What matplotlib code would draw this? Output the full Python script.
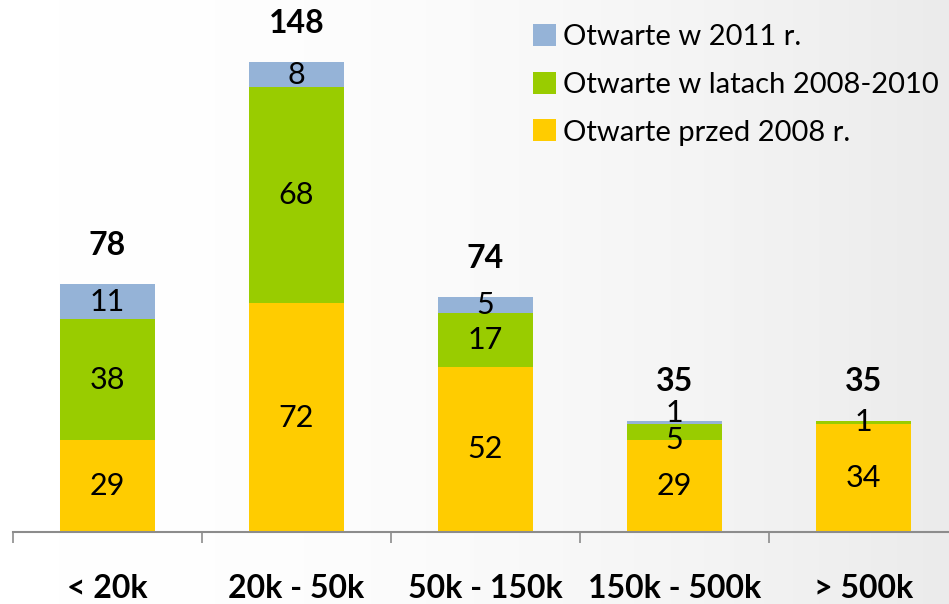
import numpy as np
import matplotlib.pyplot as plt
from matplotlib.colors import LinearSegmentedColormap

plt.rcParams['font.family'] = ['Lato', 'DejaVu Sans']

# data
categories = ["< 20k", "20k - 50k", "50k - 150k", "150k - 500k", "> 500k"]
before_2008 = [29, 72, 52, 29, 34]
years_2008_2010 = [38, 68, 17, 5, 1]
year_2011 = [11, 8, 5, 1, 0]
series_names = ["Otwarte przed 2008 r.", "Otwarte w latach 2008-2010", "Otwarte w 2011 r."]
colors = ["#ffcc00", "#99cc00", "#95b3d7"]

fig = plt.figure(figsize=(9.49, 6.04), dpi=100)

# soft grey gradient in the background
bg = fig.add_axes([0, 0, 1, 1], zorder=-10)
grad = np.linspace(0, 1, 256) ** 2
bg.imshow(grad[np.newaxis, :], aspect='auto', extent=[0, 1, 0, 1],
          cmap=LinearSegmentedColormap.from_list("bg", ["#ffffff", "#ebebeb"]))
bg.axis('off')

ax = fig.add_axes([13/949, 72/604, 945/949, 532/604])
ax.patch.set_alpha(0)

x = np.arange(len(categories))
width = 0.5
bottom = np.zeros(len(categories))
series = [before_2008, years_2008_2010, year_2011]
bars = []
for k, (vals, name, c) in enumerate(zip(series, series_names, colors)):
    vals = np.array(vals)
    b = ax.bar(x, vals, width, bottom=bottom, color=c, label=name, linewidth=0)
    bars.append(b)
    for i, (xi, v, b0) in enumerate(zip(x, vals, bottom)):
        if v == 0:
            continue
        # push apart labels of two thin neighbouring segments
        dy = 0
        if k == 2 and v < 3:
            dy = 7
        elif k == 1 and v < 6 and 0 < year_2011[i] < 3:
            dy = -6
        ax.annotate(str(v), (xi, b0 + v / 2), xytext=(0, dy), textcoords='offset points',
                    ha='center', va='center', fontsize=22)
    bottom = bottom + vals

# totals above bars
for xi, t in zip(x, bottom):
    ax.annotate(str(int(t)), (xi, t), xytext=(0, 28), textcoords='offset points',
                ha='center', va='center', fontsize=23, fontweight='bold')

ax.set_xlim(-0.5, 4.5)
ax.set_ylim(0, 167.5)
ax.set_xticks(x)
ax.set_xticklabels(categories, fontsize=23, fontweight='bold')
ax.set_xticks(np.arange(-0.5, 5, 1), minor=True)
ax.tick_params(axis='x', which='major', length=0, pad=30)
ax.tick_params(axis='x', which='minor', length=8, width=1.2, color='#8c8c8c')
ax.set_yticks([])
for s in ['top', 'right', 'left']:
    ax.spines[s].set_visible(False)
ax.spines['bottom'].set_color('#8c8c8c')
ax.spines['bottom'].set_linewidth(1.5)

ax.legend(handles=bars[::-1], loc='upper left', bbox_to_anchor=(533/949, 1 - 24/604),
          bbox_transform=fig.transFigure, frameon=False, fontsize=21,
          handlelength=0.78, handleheight=0.78, handletextpad=0.25,
          labelspacing=0.74, borderpad=0, borderaxespad=0)

fig.savefig("out.png", dpi=100)
